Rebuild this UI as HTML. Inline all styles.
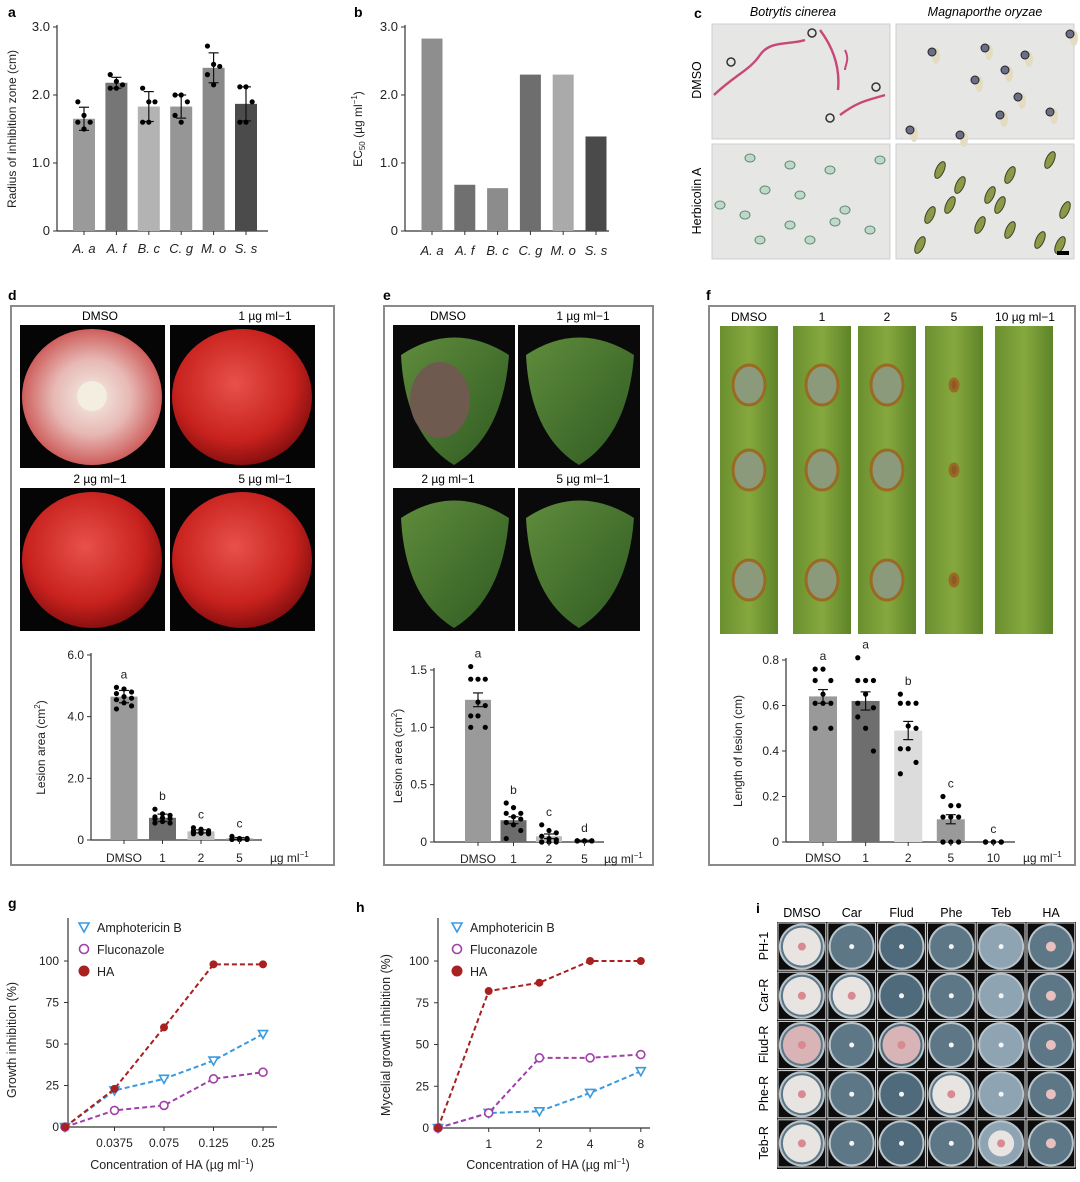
<!DOCTYPE html>
<html><head><meta charset="utf-8"><style>
html,body{margin:0;padding:0;background:#fff}
svg{display:block;font-family:"Liberation Sans",Arial,sans-serif}
</style></head><body>
<svg id="fig" width="1080" height="1182" viewBox="0 0 1080 1182" xmlns="http://www.w3.org/2000/svg">
<defs>
 <radialGradient id="tomR" cx="45%" cy="40%" r="60%"><stop offset="0" stop-color="#e8514a"/><stop offset="0.7" stop-color="#c8221e"/><stop offset="1" stop-color="#8a1010"/></radialGradient>
 <radialGradient id="tomD" cx="50%" cy="50%" r="55%"><stop offset="0" stop-color="#f4efe6"/><stop offset="0.5" stop-color="#e7b8b4"/><stop offset="1" stop-color="#c84a48"/></radialGradient>
 <linearGradient id="leafG" x1="0" y1="0" x2="1" y2="1"><stop offset="0" stop-color="#5f8c3c"/><stop offset="1" stop-color="#2f5a22"/></linearGradient>
 <linearGradient id="stripG" x1="0" y1="0" x2="1" y2="0"><stop offset="0" stop-color="#6a8f2e"/><stop offset="0.5" stop-color="#86a83e"/><stop offset="1" stop-color="#5e8428"/></linearGradient>
</defs>
<g id="root"></g>
</svg>
<script>
const NS="http://www.w3.org/2000/svg";
const root=document.getElementById('root');
function mk(tag,attrs,parent,text){const e=document.createElementNS(NS,tag);for(const k in attrs)e.setAttribute(k,attrs[k]);if(text!==undefined)e.textContent=text;(parent||root).appendChild(e);return e;}

// ---------- DATA ----------
const aCats=["A. a","A. f","B. c","C. g","M. o","S. s"];
const aVals=[1.65,2.18,1.83,1.83,2.4,1.87];
const aErr=[0.17,0.08,0.22,0.17,0.22,0.25];
const aDots=[[1.9,1.7,1.6,1.6,1.5],[2.3,2.2,2.15,2.1,2.1],[2.1,1.9,1.9,1.6,1.6],[2.0,2.0,1.9,1.7,1.6],[2.72,2.45,2.42,2.3,2.15],[2.12,2.12,1.9,1.6,1.6]];
const aTicks=[0,1.0,2.0,3.0];
const bCats=["A. a","A. f","B. c","C. g","M. o","S. s"];
const bVals=[2.83,0.68,0.63,2.3,2.3,1.39];
const dCats=["DMSO","1","2","5"];
const dVals=[4.65,0.72,0.28,0.05];
const dErr=[0.2,0.12,0.05,0.03];
const dDots=[[4.95,4.9,4.8,4.75,4.65,4.6,4.55,4.45,4.35,4.25],[1.0,0.85,0.8,0.75,0.72,0.7,0.68,0.6,0.55,0.55],[0.4,0.35,0.3,0.3,0.28,0.25,0.25,0.22,0.2,0.2],[0.12,0.05,0.05,0.03,0.02,0.02,0.02,0.02,0.02,0.02]];
const dTicks=[0,2.0,4.0,6.0];
const eCats=["DMSO","1","2","5"];
const eVals=[1.24,0.19,0.05,0.01];
const eErr=[0.06,0.03,0.02,0.005];
const eDots=[[1.53,1.42,1.42,1.42,1.22,1.19,1.1,1.1,1.0,1.0],[0.34,0.3,0.25,0.25,0.22,0.2,0.17,0.15,0.1,0.03],[0.15,0.1,0.08,0.05,0.03,0.02,0.0,0.0,0.0,0.0],[0.01,0.01,0.01,0.01,0.01,0.01,0.01,0.01,0.01,0.01]];
const eTicks=[0,0.5,1.0,1.5];
const fCats=["DMSO","1","2","5","10"];
const fVals=[0.64,0.62,0.49,0.1,0.0];
const fErr=[0.03,0.04,0.04,0.02,0.0];
const fDots=[[0.76,0.76,0.71,0.71,0.65,0.61,0.61,0.61,0.5,0.5],[0.81,0.71,0.71,0.71,0.65,0.59,0.55,0.5,0.4,0.61],[0.65,0.61,0.61,0.61,0.51,0.5,0.41,0.41,0.35,0.3],[0.2,0.16,0.16,0.11,0.11,0.11,0.0,0.0,0.0,0.0],[0,0,0,0,0,0,0,0,0,0]];
const fTicks=[0,0.2,0.4,0.6,0.8];
const letters_d=["a","b","c","c"], letters_e=["a","b","c","d"], letters_f=["a","a","b","c","c"];
const gX=["","0.0375","0.075","0.125","0.25"];
const gHA=[0,23,60,98,98], gAmp=[0,22,29,40,56], gFlu=[0,10,13,29,33];
const hX=["","1","2","4","8"];
const hHA=[0,82,87,100,100], hAmp=[0,9,10,21,34], hFlu=[0,9,42,42,44];
const lineTicks=[0,25,50,75,100];
const iCols=["DMSO","Car","Flud","Phe","Teb","HA"];
const iRows=["PH-1","Car-R","Flud-R","Phe-R","Teb-R"];

// ---------- helpers ----------
function label(t,x,y){mk('text',{x:x,y:y,'font-size':14,'font-weight':'bold',},root,t);}
function barChart(o){
  const g=mk('g',{});
  const ys=v=>o.y0-(v/o.max)*(o.y0-o.yTop);
  mk('line',{x1:o.ax,y1:o.yTop-2,x2:o.ax,y2:o.y0,stroke:'#333','stroke-width':1.2},g);
  mk('line',{x1:o.ax,y1:o.y0,x2:o.xEnd,y2:o.y0,stroke:'#333','stroke-width':1.2},g);
  o.ticks.forEach(t=>{const y=ys(t);
    mk('line',{x1:o.ax-4,y1:y,x2:o.ax,y2:y,stroke:'#333'},g);
    const tl=mk('text',{x:o.ax-7,y:y+4,'font-size':o.fs||12,'text-anchor':'end',fill:'#222'},g,t===0?'0':t.toFixed(o.dec));
    });
  o.vals.forEach((v,i)=>{
    const cx=o.x0+i*o.step;
    const b=mk('rect',{x:cx-o.bw/2,y:ys(v),width:o.bw,height:o.y0-ys(v),fill:o.colors[i]},g);
    
    
    if(o.err){const e=o.err[i];if(e>0){const y1=ys(v+e),y2=ys(v-e);
      mk('line',{x1:cx,y1:y1,x2:cx,y2:y2,stroke:'#111','stroke-width':1.2},g);
      mk('line',{x1:cx-5,y1:y1,x2:cx+5,y2:y1,stroke:'#111','stroke-width':1.2},g);
      mk('line',{x1:cx-5,y1:y2,x2:cx+5,y2:y2,stroke:'#111','stroke-width':1.2},g);}}
    if(o.dots){o.dots[i].forEach((d,j)=>{const n=o.dots[i].length;const off=((j%3)-1)*(o.bw*0.28);
      mk('circle',{cx:cx+off,cy:ys(d),r:2.6,fill:'#000'},g);});}
    mk('line',{x1:cx,y1:o.y0,x2:cx,y2:o.y0+4,stroke:'#333'},g);
    const xl=mk('text',{x:cx,y:o.y0+o.lblDy,'font-size':o.fs||12,'text-anchor':'middle','font-style':o.italic?'italic':'normal',fill:'#222'},g,o.cats[i]);
    
    if(o.letters){mk('text',{x:cx,y:ys(o.dots?Math.max(...o.dots[i]):v)-9,'font-size':12,'text-anchor':'middle',fill:'#222'},g,o.letters[i]);}
  });
  if(o.ytitle){const t=mk('text',{x:0,y:0,'font-size':12,'text-anchor':'middle',transform:`translate(${o.ytx},${(o.y0+o.yTop)/2}) rotate(-90)`,fill:'#222'},g);
    t.innerHTML=o.ytitle;}
  if(o.unit){const u=mk('text',{x:o.unitX,y:o.y0+o.lblDy,'font-size':12,fill:'#222'},g);u.innerHTML='µg ml<tspan dy="-5" font-size="8">−1</tspan>';}
  return g;
}

// ---------- a ----------
label('a',8,17);
barChart({name:'panel-a-chart',ax:57,yTop:27,y0:231,xEnd:268,max:3,ticks:aTicks,dec:1,x0:84,step:32.4,bw:22,vals:aVals,err:aErr,dots:aDots,cats:aCats,
 colors:['#9a9a9a','#767676','#b3b3b3','#969696','#8a8a8a','#4b4b4b'],italic:true,lblDy:22,fs:13,ytitle:'Radius of inhibition zone (cm)',ytx:16});
// ---------- b ----------
label('b',354,17);
barChart({name:'panel-b-chart',ax:405,yTop:27,y0:231,xEnd:609,max:3,ticks:aTicks,dec:1,x0:432,step:32.8,bw:21,vals:bVals,cats:bCats,
 colors:['#8e8e8e','#707070','#8c8c8c','#6e6e6e','#aaaaaa','#4a4a4a'],italic:true,lblDy:24,fs:13,ytitle:'EC<tspan dy="3" font-size="8">50</tspan><tspan dy="-3"> (µg ml</tspan><tspan dy="-5" font-size="8">−1</tspan><tspan dy="5">)</tspan>',ytx:362});

// ---------- c ----------
label('c',694,18);
mk('text',{x:793,y:16,'font-size':12.5,'font-style':'italic','text-anchor':'middle',},root,'Botrytis cinerea');
mk('text',{x:985,y:16,'font-size':12.5,'font-style':'italic','text-anchor':'middle',},root,'Magnaporthe oryzae');
mk('text',{x:0,y:0,'font-size':12.5,'text-anchor':'middle',transform:'translate(701,80) rotate(-90)',},root,'DMSO');
mk('text',{x:0,y:0,'font-size':12.5,'text-anchor':'middle',transform:'translate(701,201) rotate(-90)',},root,'Herbicolin A');
[[712,24],[896,24],[712,144],[896,144]].forEach((p,k)=>{
  const r=mk('rect',{x:p[0],y:p[1],width:178,height:115,fill:'#e6e6e4',stroke:'#cfcfcf'});
  
});
// hyphae
mk('path',{d:'M714 95 C735 75 750 70 760 55 S790 45 805 40 M820 30 C835 50 840 70 838 90 M840 115 C860 100 870 100 885 95',stroke:'#c84878',fill:'none','stroke-width':2.4});
mk('path',{d:'M845 50 C850 60 845 65 845 70',stroke:'#c84878',fill:'none','stroke-width':2});
[[731,62],[812,33],[876,87],[830,118]].forEach(p=>mk('circle',{cx:p[0],cy:p[1],r:4,fill:'none',stroke:'#333','stroke-width':1.5}));
[[932,52],[985,48],[1005,70],[1018,97],[1000,115],[910,130],[960,135],[1050,112],[1070,34],[975,80],[1025,55]].forEach(p=>{mk('ellipse',{cx:p[0]+4,cy:p[1]+4,rx:4,ry:8,fill:'#e4dcc0'});mk('circle',{cx:p[0],cy:p[1],r:4,fill:'#6a6e88',stroke:'#222'});});
[[750,158],[790,165],[830,170],[765,190],[800,195],[745,215],[790,225],[835,222],[870,230],[760,240],[810,240],[845,210],[720,205],[880,160]].forEach(p=>mk('ellipse',{cx:p[0],cy:p[1],rx:5,ry:4,fill:'#bfd8c8',stroke:'#5d8a72'}));
[[940,170],[960,185],[990,195],[1010,175],[1050,160],[1065,210],[930,215],[980,225],[1010,230],[1040,240],[920,245],[1060,245],[1000,205],[950,205]].forEach(p=>mk('ellipse',{cx:p[0],cy:p[1],rx:4,ry:9,fill:'#8a9a48',stroke:'#3b3e20',transform:`rotate(25 ${p[0]} ${p[1]})`}));
mk('rect',{x:1057,y:251,width:12,height:4,fill:'#000',});

// ---------- d ----------
label('d',8,300);
mk('rect',{x:11,y:306,width:323,height:559,fill:'none',stroke:'#8a8a8a','stroke-width':2,});
[[20,325,'DMSO','url(#tomD)'],[170,325,'1 µg ml−1','url(#tomR)'],[20,488,'2 µg ml−1','url(#tomR)'],[170,488,'5 µg ml−1','url(#tomR)']].forEach((p,k)=>{
  mk('rect',{x:p[0],y:p[1],width:145,height:143,fill:'#050505',});
  mk('ellipse',{cx:p[0]+72,cy:p[1]+72,rx:70,ry:68,fill:p[3]});
  mk('text',{x:p[0]+(k%2?95:80),y:p[1]-5,'font-size':12,'text-anchor':'middle'},root,p[2]);
});
mk('circle',{cx:92,cy:396,r:15,fill:'#f3eee0'});
barChart({name:'panel-d-chart',ax:91,yTop:655,y0:840,xEnd:262,max:6,ticks:dTicks,dec:1,x0:124,step:38.5,bw:27,vals:dVals,err:dErr,dots:dDots,cats:dCats,letters:letters_d,
 colors:['#9a9a9a','#6c6c6c','#bdbdbd','#9a9a9a'],lblDy:22,ytitle:'Lesion area (cm<tspan dy="-5" font-size="8">2</tspan><tspan dy="5">)</tspan>',ytx:45,unit:true,unitX:270});

// ---------- e ----------
label('e',383,300);
mk('rect',{x:384,y:306,width:269,height:559,fill:'none',stroke:'#8a8a8a','stroke-width':2,});
[[393,325,'DMSO'],[518,325,'1 µg ml−1'],[393,488,'2 µg ml−1'],[518,488,'5 µg ml−1']].forEach((p,k)=>{
  mk('rect',{x:p[0],y:p[1],width:122,height:143,fill:'#0a0a0a',});
  mk('path',{d:`M${p[0]+8} ${p[1]+30} Q${p[0]+61} ${p[1]-5} ${p[0]+116} ${p[1]+30} Q${p[0]+110} ${p[1]+110} ${p[0]+61} ${p[1]+140} Q${p[0]+12} ${p[1]+110} ${p[0]+8} ${p[1]+30}Z`,fill:'url(#leafG)'});
  mk('text',{x:p[0]+(k%2?65:55),y:p[1]-5,'font-size':12,'text-anchor':'middle'},root,p[2]);
});
mk('ellipse',{cx:440,cy:400,rx:30,ry:38,fill:'#6e5a4e'});
barChart({name:'panel-e-chart',ax:434,yTop:670,y0:842,xEnd:604,max:1.5,ticks:eTicks,dec:1,x0:478,step:35.5,bw:26,vals:eVals,err:eErr,dots:eDots,cats:eCats,letters:letters_e,
 colors:['#9a9a9a','#6c6c6c','#bdbdbd','#9a9a9a'],lblDy:21,ytitle:'Lesion area (cm<tspan dy="-5" font-size="8">2</tspan><tspan dy="5">)</tspan>',ytx:402,unit:true,unitX:604});

// ---------- f ----------
label('f',706,300);
mk('rect',{x:709,y:306,width:366,height:559,fill:'none',stroke:'#8a8a8a','stroke-width':2,});
const fLab=['DMSO','1','2','5','10 µg ml−1'];
[720,793,858,925,995].forEach((x,k)=>{
  mk('rect',{x:x,y:326,width:58,height:308,fill:'url(#stripG)',});
  if(k<4)[385,470,580].forEach(y=>mk('ellipse',{cx:x+29,cy:y,rx:k<3?16:4,ry:k<3?20:6,fill:k<3?'#8a9a7a':'#8a5a2a',stroke:'#9a6a22','stroke-width':3}));
  mk('text',{x:x+(k==4?30:29),y:321,'font-size':12,'text-anchor':'middle'},root,fLab[k]);
});
barChart({name:'panel-f-chart',ax:786,yTop:660,y0:842,xEnd:1015,max:0.8,ticks:fTicks,dec:1,x0:823,step:42.6,bw:28,vals:fVals,err:fErr,dots:fDots,cats:fCats,letters:letters_f,
 colors:['#999999','#6e6e6e','#dcdcdc','#9a9a9a','#888'],lblDy:20,ytitle:'Length of lesion (cm)',ytx:742,unit:true,unitX:1023});

// ---------- line charts ----------
function lineChart(o){
  const g=mk('g',{});
  const ys=v=>o.y0-(v/100)*(o.y0-o.y100);
  const xs=i=>o.x0+i*o.step;
  mk('line',{x1:o.ax,y1:o.yTop,x2:o.ax,y2:o.y0,stroke:'#333','stroke-width':1.2},g);
  mk('line',{x1:o.ax,y1:o.y0,x2:o.xEnd,y2:o.y0,stroke:'#333','stroke-width':1.2},g);
  lineTicks.forEach(t=>{const y=ys(t);mk('line',{x1:o.ax-4,y1:y,x2:o.ax,y2:y,stroke:'#333'},g);
    const tl=mk('text',{x:o.ax-9,y:y+4,'font-size':12,'text-anchor':'end',fill:'#222'},g,String(t));
    });
  o.xl.forEach((t,i)=>{if(!t)return;mk('line',{x1:xs(i),y1:o.y0,x2:xs(i),y2:o.y0+4,stroke:'#333'},g);
    const xl=mk('text',{x:xs(i),y:o.y0+20,'font-size':12,'text-anchor':'middle',fill:'#222'},g,t);
    });
  const series=[[o.amp,'#3a9ae0','tri'],[o.flu,'#a040a8','circ'],[o.ha,'#a82020','dot']];
  series.forEach(s=>{
    const pts=s[0].map((v,i)=>xs(i)+','+ys(v)).join(' ');
    const pl=mk('polyline',{points:pts,fill:'none',stroke:s[1],'stroke-width':2,'stroke-dasharray':'5,3'},g);
    
    s[0].forEach((v,i)=>{const x=xs(i),y=ys(v);
      if(s[2]=='dot')mk('circle',{cx:x,cy:y,r:4,fill:s[1]},g);
      else if(s[2]=='circ')mk('circle',{cx:x,cy:y,r:4,fill:'#fff',stroke:s[1],'stroke-width':1.6},g);
      else mk('path',{d:`M${x-4.5} ${y-3.5} L${x+4.5} ${y-3.5} L${x} ${y+4.5}Z`,fill:'#fff',stroke:s[1],'stroke-width':1.6},g);});
  });
  const lx=o.legX, ly=[927,949,971];
  mk('path',{d:`M${lx-5} ${ly[0]-4} L${lx+5} ${ly[0]-4} L${lx} ${ly[0]+5}Z`,fill:'#fff',stroke:'#3a9ae0','stroke-width':1.6},g);
  mk('circle',{cx:lx,cy:ly[1],r:4.5,fill:'#fff',stroke:'#a040a8','stroke-width':1.6},g);
  mk('circle',{cx:lx,cy:ly[2],r:5.5,fill:'#a82020'},g);
  ['Amphotericin B','Fluconazole','HA'].forEach((t,k)=>{const e=mk('text',{x:lx+13,y:ly[k]+5,'font-size':12.5,fill:'#222'},g,t);
    });
  const xt=mk('text',{x:o.xtX,y:1169,'font-size':12.5,'text-anchor':'middle',fill:'#222'},g);
  xt.innerHTML='Concentration of HA (µg ml<tspan dy="-5" font-size="8">−1</tspan><tspan dy="5">)</tspan>';
  
  const yt=mk('text',{x:0,y:0,'font-size':12.5,'text-anchor':'middle',transform:`translate(${o.ytx},${o.yty}) rotate(-90)`,fill:'#222'},g,o.ytitle);
  
}
label('g',8,908);
lineChart({name:'panel-g-chart',ax:68,yTop:918,y0:1127,y100:961,x0:65,step:49.5,xEnd:277,xl:gX,ha:gHA,amp:gAmp,flu:gFlu,legX:84,xtX:172,ytitle:'Growth inhibition (%)',ytx:16,yty:1040});
label('h',356,912);
lineChart({name:'panel-h-chart',ax:438,yTop:918,y0:1128,y100:961,x0:438,step:50.7,xEnd:650,xl:hX,ha:hHA,amp:hAmp,flu:hFlu,legX:457,xtX:548,ytitle:'Mycelial growth inhibition (%)',ytx:390,yty:1035});

// ---------- i ----------
label('i',756,913);
iCols.forEach((c,k)=>{const t=mk('text',{x:802+k*49.8,y:917,'font-size':12.5,'text-anchor':'middle'},root,c);
  });
iRows.forEach((r,k)=>{const t=mk('text',{x:0,y:0,'font-size':12.5,'text-anchor':'middle',transform:`translate(768,${946+k*49.2}) rotate(-90)`},root,r);
  });
mk('rect',{x:777,y:922,width:299,height:247,fill:'#111',});
iRows.forEach((r,ri)=>iCols.forEach((c,ci)=>{
  const x=777+ci*49.8, y=922+ri*49.2, cx=x+24.9, cy=y+24.6;
  mk('rect',{x:x+1,y:y+1,width:47.8,height:47.2,fill:'#0c0c0c',stroke:'#ddd','stroke-width':1});
  const grown = ci===0 || (ri===1&&ci===1)||(ri===2&&ci===2)||(ri===3&&ci===3)||(ri===4&&ci===4);
  const base = ci===4?'#8ea4b2':(ci===2?'#4f6a7a':'#5e7786');
  const p=mk('circle',{cx:cx,cy:cy,r:22,fill:base,stroke:'#b8c4cc','stroke-width':2});
  
  if(grown){mk('circle',{cx:cx,cy:cy,r:ri===4&&ci===4?13:19,fill:(ri===2)?'#d9b4b6':'#e8e4e2'});mk('circle',{cx:cx,cy:cy,r:4,fill:'#d88a90'});}
  else mk('circle',{cx:cx,cy:cy,r:ci===5?5:2.5,fill:ci===5?'#e8c0c0':'#f4f4f4'});
}));
</script>
</body></html>
